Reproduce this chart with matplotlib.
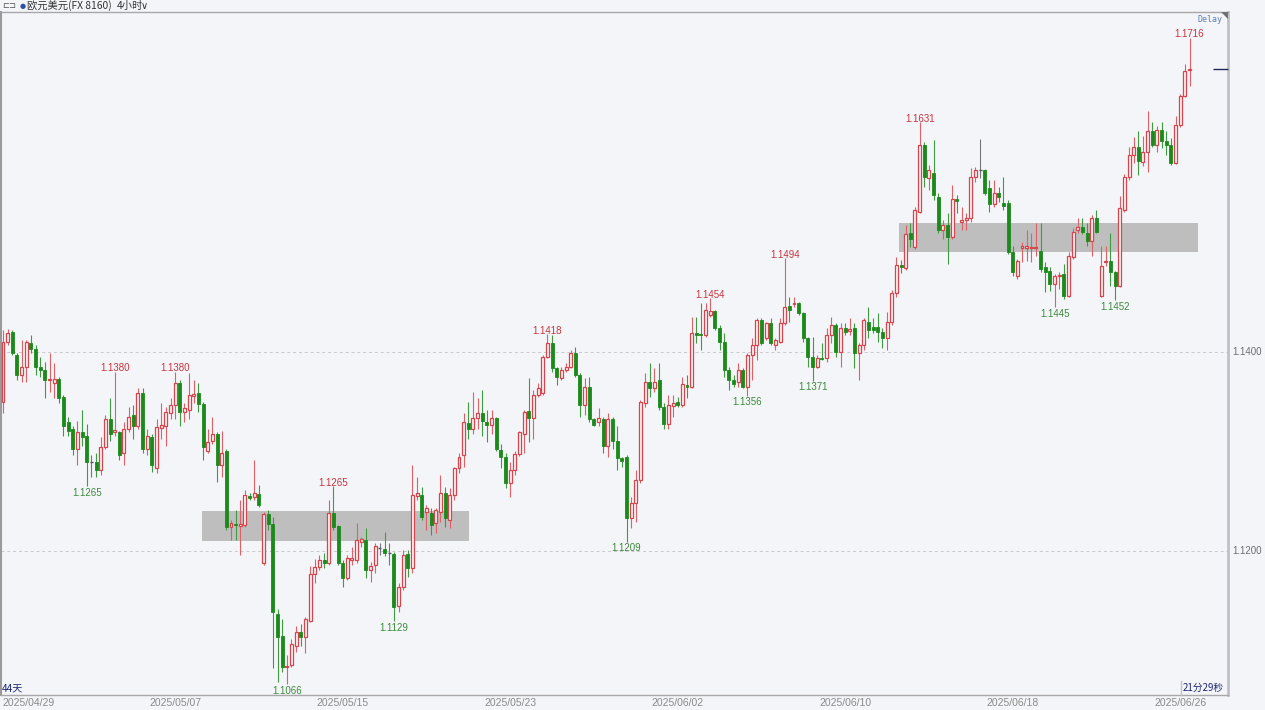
import numpy as np
import matplotlib
matplotlib.use('Agg')
import matplotlib.pyplot as plt
from matplotlib.transforms import blended_transform_factory
from matplotlib.patches import Rectangle, Polygon
from matplotlib.lines import Line2D

plt.rcParams['font.family'] = ['Liberation Sans', 'Noto Sans CJK SC', 'DejaVu Sans']

# ---------------- data: EUR/USD 4H candles ----------------
opens = [
 1.1350,1.1410,1.1420,1.1397,1.1377,1.1385,1.1409,1.1403,1.1385,1.1382,
 1.1372,1.1369,1.1373,1.1355,1.1329,1.1322,1.1302,1.1319,1.1315,1.1289,
 1.1289,1.1281,1.1304,1.1332,1.1319,1.1319,1.1298,1.1322,1.1337,1.1325,
 1.1359,1.1302,1.1314,1.1283,1.1323,1.1325,1.1339,1.1347,1.1369,1.1340,
 1.1342,1.1356,1.1359,1.1348,1.1300,1.1310,1.1317,1.1286,
 1.1300,1.1224,1.1227,1.1225,1.1226,1.1255,1.1254,1.1257,1.1188,1.1237,
 1.1227,1.1136,1.1114,1.1083,1.1085,1.1104,1.1118,1.1113,1.1129,1.1177,
 1.1184,1.1191,1.1188,1.1238,1.1225,1.1188,1.1173,1.1191,1.1191,1.1209,
 1.1211,1.1181,1.1186,1.1203,1.1202,1.1198,1.1197,1.1144,1.1164,1.1197,
 1.1183,1.1255,1.1256,
 1.1239,1.1238,1.1228,1.1239,1.1258,1.1231,1.1256,1.1283,1.1296,1.1328,
 1.1322,1.1333,1.1339,1.1329,1.1326,1.1333,1.1301,1.1294,1.1268,1.1281,
 1.1297,1.1317,1.1341,1.1333,1.1357,1.1359,1.1395,1.1409,1.1384,1.1374,
 1.1382,1.1385,1.1399,1.1377,1.1347,1.1365,1.1332,1.1329,1.1332,1.1305,
 1.1332,1.1310,1.1293,1.1294,1.1233,1.1248,1.1271,1.1349,1.1370,
 1.1364,1.1372,1.1345,1.1327,1.1346,1.1350,1.1347,1.1367,1.1365,1.1419,
 1.1418,1.1417,1.1437,1.1441,1.1424,1.1410,1.1382,1.1372,1.1370,1.1382,
 1.1365,1.1397,1.1407,1.1432,1.1414,1.1429,1.1407,1.1410,1.1429,1.1446,
 1.1448,1.1449,1.1439,1.1414,1.1395,1.1385,1.1394,1.1394,1.1417,1.1427,
 1.1400,1.1424,1.1421,1.1424,1.1399,1.1407,1.1430,1.1425,1.1425,1.1420,1.1414,
 1.1430,1.1459,1.1487,1.1484,1.1520,1.1505,1.1541,1.1608,1.1575,1.1580,
 1.1556,1.1523,1.1528,1.1515,1.1554,1.1531,1.1533,1.1535,1.1576,1.1583,
 1.1583,1.1565,1.1549,1.1560,1.1550,1.1550,1.1500,1.1476,1.1504,1.1504,
 1.1504,1.1504,1.1501,1.1485,1.1481,1.1468,1.1476,1.1478,1.1456,1.1495,
 1.1523,1.1526,1.1520,1.1511,1.1535,1.1456,1.1490,1.1491,1.1480,1.1466,1.1543,
 1.1576,1.1598,1.1606,1.1591,1.1601,1.1622,1.1608,1.1623,1.1612,1.1608,
 1.1590,1.1628,1.1657,1.1683]

highs = [
 1.1422,1.1423,1.1422,1.1399,1.1412,1.1412,1.1417,1.1407,1.1395,1.1390,
 1.1399,1.1389,1.1375,1.1357,1.1335,1.1325,1.1330,1.1342,1.1327,1.1296,
 1.1298,1.1314,1.1337,1.1354,1.1380,1.1320,1.1329,1.1345,1.1347,1.1364,
 1.1364,1.1322,1.1317,1.1332,1.1349,1.1345,1.1354,1.1380,1.1372,1.1349,
 1.1379,1.1372,1.1369,1.1350,1.1322,1.1335,1.1319,1.1320,
 1.1302,1.1231,1.1241,1.1251,1.1261,1.1258,1.1291,1.1266,1.1239,1.1241,
 1.1234,1.1141,1.1131,1.1095,1.1111,1.1124,1.1126,1.1133,1.1185,1.1192,
 1.1196,1.1198,1.1251,1.1265,1.1226,1.1191,1.1196,1.1204,1.1228,1.1214,
 1.1223,1.1189,1.1208,1.1208,1.1219,1.1208,1.1199,1.1168,1.1201,1.1201,
 1.1286,1.1274,1.1264,
 1.1246,1.1243,1.1243,1.1276,1.1264,1.1263,1.1284,1.1298,1.1339,1.1350,
 1.1360,1.1354,1.1362,1.1342,1.1342,1.1335,1.1307,1.1298,1.1289,1.1300,
 1.1320,1.1342,1.1374,1.1362,1.1369,1.1397,1.1418,1.1417,1.1385,1.1385,
 1.1389,1.1402,1.1405,1.1379,1.1374,1.1375,1.1334,1.1344,1.1335,1.1339,
 1.1335,1.1325,1.1294,1.1296,1.1254,1.1281,1.1352,1.1379,1.1389,
 1.1384,1.1389,1.1349,1.1357,1.1357,1.1355,1.1375,1.1377,1.1435,1.1435,
 1.1449,1.1449,1.1454,1.1442,1.1427,1.1419,1.1385,1.1377,1.1389,1.1384,
 1.1399,1.1414,1.1434,1.1434,1.1430,1.1434,1.1414,1.1434,1.1494,1.1455,
 1.1455,1.1450,1.1440,1.1415,1.1415,1.1397,1.1409,1.1424,1.1435,1.1429,
 1.1429,1.1429,1.1434,1.1429,1.1409,1.1434,1.1445,1.1434,1.1439,1.1424,1.1440,
 1.1462,1.1495,1.1492,1.1528,1.1530,1.1546,1.1631,1.1611,1.1588,1.1613,
 1.1560,1.1533,1.1540,1.1568,1.1558,1.1546,1.1540,1.1585,1.1586,1.1614,
 1.1584,1.1573,1.1573,1.1566,1.1576,1.1553,1.1506,1.1493,1.1510,1.1523,
 1.1520,1.1530,1.1530,1.1490,1.1485,1.1478,1.1480,1.1488,1.1500,1.1525,
 1.1535,1.1535,1.1530,1.1538,1.1543,1.1506,1.1506,1.1520,1.1481,1.1557,1.1579,
 1.1606,1.1616,1.1622,1.1617,1.1642,1.1631,1.1627,1.1631,1.1622,1.1615,
 1.1637,1.1659,1.1689,1.1716]

lows = [
 1.1339,1.1407,1.1397,1.1372,1.1370,1.1370,1.1399,1.1377,1.1375,1.1354,
 1.1360,1.1354,1.1349,1.1315,1.1315,1.1296,1.1286,1.1305,1.1265,1.1274,
 1.1274,1.1276,1.1302,1.1310,1.1315,1.1291,1.1286,1.1319,1.1312,1.1322,
 1.1298,1.1296,1.1279,1.1278,1.1312,1.1305,1.1332,1.1332,1.1325,1.1329,
 1.1332,1.1349,1.1340,1.1291,1.1298,1.1307,1.1269,1.1274,
 1.1221,1.1211,1.1211,1.1196,1.1224,1.1251,1.1251,1.1244,1.1186,1.1221,
 1.1082,1.1068,1.1078,1.1066,1.1083,1.1098,1.1104,1.1097,1.1128,1.1168,
 1.1181,1.1183,1.1186,1.1221,1.1186,1.1164,1.1171,1.1186,1.1188,1.1204,
 1.1173,1.1169,1.1178,1.1196,1.1195,1.1186,1.1129,1.1138,1.1161,1.1174,
 1.1178,1.1251,1.1231,
 1.1221,1.1216,1.1218,1.1229,1.1224,1.1223,1.1251,1.1278,1.1284,1.1312,
 1.1317,1.1322,1.1315,1.1309,1.1317,1.1300,1.1283,1.1263,1.1254,1.1276,
 1.1295,1.1298,1.1309,1.1312,1.1355,1.1357,1.1394,1.1380,1.1367,1.1372,
 1.1380,1.1384,1.1375,1.1335,1.1337,1.1329,1.1325,1.1325,1.1298,1.1294,
 1.1302,1.1281,1.1284,1.1209,1.1223,1.1229,1.1268,1.1345,1.1355,
 1.1360,1.1342,1.1322,1.1322,1.1335,1.1345,1.1345,1.1354,1.1364,1.1409,
 1.1402,1.1415,1.1435,1.1422,1.1402,1.1375,1.1362,1.1365,1.1365,1.1364,
 1.1356,1.1372,1.1392,1.1407,1.1412,1.1407,1.1402,1.1409,1.1427,1.1430,
 1.1445,1.1437,1.1410,1.1385,1.1371,1.1384,1.1392,1.1390,1.1409,1.1395,
 1.1385,1.1417,1.1417,1.1384,1.1372,1.1402,1.1414,1.1419,1.1410,1.1404,1.1402,
 1.1427,1.1455,1.1479,1.1482,1.1505,1.1503,1.1540,1.1566,1.1563,1.1553,
 1.1520,1.1513,1.1488,1.1513,1.1540,1.1523,1.1523,1.1531,1.1571,1.1575,
 1.1558,1.1541,1.1546,1.1551,1.1543,1.1498,1.1476,1.1473,1.1490,1.1491,
 1.1490,1.1496,1.1480,1.1460,1.1461,1.1445,1.1463,1.1453,1.1455,1.1493,
 1.1520,1.1518,1.1506,1.1496,1.1520,1.1455,1.1486,1.1466,1.1452,1.1465,1.1541,
 1.1573,1.1590,1.1578,1.1587,1.1581,1.1606,1.1601,1.1605,1.1598,1.1588,
 1.1589,1.1626,1.1656,1.1667]

closes = [
 1.1410,1.1419,1.1399,1.1377,1.1385,1.1410,1.1403,1.1385,1.1382,1.1372,
 1.1373,1.1373,1.1354,1.1325,1.1320,1.1302,1.1319,1.1314,1.1289,1.1289,
 1.1281,1.1304,1.1332,1.1317,1.1321,1.1296,1.1322,1.1335,1.1325,1.1359,
 1.1302,1.1315,1.1286,1.1324,1.1326,1.1340,1.1347,1.1369,1.1340,1.1344,
 1.1357,1.1358,1.1348,1.1304,1.1309,1.1317,1.1286,1.1298,
 1.1224,1.1228,1.1226,1.1227,1.1256,1.1253,1.1258,1.1246,1.1237,1.1227,
 1.1138,1.1113,1.1083,1.1084,1.1106,1.1118,1.1113,1.1131,1.1177,1.1184,
 1.1191,1.1188,1.1238,1.1224,1.1188,1.1173,1.1193,1.1193,1.1211,1.1212,
 1.1181,1.1185,1.1205,1.1203,1.1198,1.1198,1.1143,1.1164,1.1196,1.1183,
 1.1256,1.1258,1.1234,
 1.1243,1.1226,1.1241,1.1258,1.1233,1.1256,1.1283,1.1294,1.1329,1.1322,
 1.1334,1.1339,1.1330,1.1326,1.1333,1.1302,1.1294,1.1268,1.1281,1.1297,
 1.1319,1.1340,1.1333,1.1357,1.1364,1.1395,1.1409,1.1384,1.1375,1.1382,
 1.1385,1.1399,1.1377,1.1347,1.1365,1.1332,1.1326,1.1333,1.1305,1.1332,
 1.1310,1.1293,1.1290,1.1233,1.1248,1.1271,1.1350,1.1370,1.1364,
 1.1370,1.1345,1.1327,1.1347,1.1349,1.1347,1.1368,1.1365,1.1419,1.1417,
 1.1417,1.1442,1.1441,1.1424,1.1410,1.1382,1.1372,1.1368,1.1382,1.1365,
 1.1397,1.1407,1.1432,1.1409,1.1429,1.1409,1.1412,1.1429,1.1445,1.1442,
 1.1449,1.1439,1.1414,1.1395,1.1385,1.1394,1.1393,1.1417,1.1427,1.1400,
 1.1424,1.1420,1.1423,1.1399,1.1407,1.1432,1.1422,1.1422,1.1420,1.1414,1.1430,
 1.1459,1.1487,1.1485,1.1518,1.1513,1.1543,1.1608,1.1576,1.1583,1.1558,
 1.1523,1.1528,1.1515,1.1554,1.1552,1.1533,1.1535,1.1576,1.1583,1.1583,
 1.1560,1.1549,1.1560,1.1556,1.1547,1.1500,1.1480,1.1491,1.1506,1.1506,
 1.1505,1.1505,1.1483,1.1480,1.1468,1.1476,1.1477,1.1456,1.1496,1.1521,
 1.1526,1.1521,1.1511,1.1535,1.1521,1.1486,1.1491,1.1480,1.1466,1.1545,1.1576,
 1.1598,1.1606,1.1592,1.1601,1.1622,1.1608,1.1623,1.1612,1.1608,1.1590,
 1.1628,1.1657,1.1682,1.1684]

# marked swing highs / lows (candle indices)
peak_idx = [24, 37, 71, 117, 152, 168, 197, 255]
trough_idx = [18, 61, 84, 134, 160, 174, 226, 239]

# grey consolidation zones: (first candle, last candle, low price, high price)
zone_start = [42.8, 192.6]
zone_end = [100.2, 256.8]
zone_low = [1.1210, 1.1500]
zone_high = [1.1240, 1.1530]

date_labels = ['2025/04/29', '2025/05/07', '2025/05/15', '2025/05/23',
               '2025/06/02', '2025/06/10', '2025/06/18', '2025/06/26']
date_idx = [1, 37, 73, 109, 145, 181, 217, 253]
price_ticks = [1.1400, 1.1200]

# ---------------- figure ----------------
o = np.array(opens); h = np.array(highs); l = np.array(lows); c = np.array(closes)
n = len(c)
x = np.arange(n)

W, H = 1265, 710
BG = '#F4F5F9'
fig = plt.figure(figsize=(W / 100, H / 100), dpi=100)
fig.patch.set_facecolor(BG)
L, R, B, T = 1, 1228, 695, 12
ax = fig.add_axes([L / W, (H - B) / H, (R - L) / W, (B - T) / H])
ax.set_facecolor(BG)
step = 4.653
ax.set_xlim((L - 3) / step, (R - 3) / step)
ax.set_ylim(1.1055, 1.17417)
ax.set_xticks([]); ax.set_yticks([])
for s, col, lw in [('left', '#9A9A9A', 1.5), ('right', '#BFC0C8', 2.0),
                   ('top', '#A8A8A8', 1.0), ('bottom', '#A8A8A8', 1.0)]:
    ax.spines[s].set_color(col); ax.spines[s].set_linewidth(lw)

# grid
for v in price_ticks:
    ax.axhline(v, color='#C8C8CC', lw=0.7, ls=(0, (3, 3)), zorder=0.5)

# zones
for xs, xe, lo, hi in zip(zone_start, zone_end, zone_low, zone_high):
    ax.add_patch(Rectangle((xs, lo), xe - xs, hi - lo, facecolor='#BEBEBE',
                           edgecolor='none', zorder=1))

RED = '#D6454B'; RED_W = '#DE6168'
GRN = '#1B8A1B'; GRN_W = '#3F9B3F'
up = c > o
dn = c < o
fl = c == o
ax.vlines(x[up], l[up], h[up], color=RED_W, lw=0.8, zorder=2)
ax.vlines(x[dn], l[dn], h[dn], color=GRN_W, lw=0.8, zorder=2)
ax.vlines(x[fl], l[fl], h[fl], color='#777777', lw=0.8, zorder=2)
bw = 0.64
minh = 0.00005
ax.bar(x[up], np.maximum(c[up] - o[up], minh), bottom=o[up], width=bw,
       facecolor='#FBF5F7', edgecolor=RED, linewidth=0.9, zorder=3)
ax.bar(x[dn], np.maximum(o[dn] - c[dn], minh), bottom=c[dn], width=bw,
       facecolor=GRN, edgecolor=GRN, linewidth=0.6, zorder=3)
ax.hlines(c[fl], x[fl] - bw / 2, x[fl] + bw / 2, color='#555555', lw=1.0, zorder=3)

# current price marker
ax.hlines(c[-1], (1213 - 3) / step, ax.get_xlim()[1], color='#1F2A5A', lw=1.0,
          zorder=4, clip_on=False)

# swing annotations
for i in peak_idx:
    ax.annotate(f'{h[i]:.4f}', (i, h[i]), xytext=(0, -1.2), textcoords='offset points',
                ha='center', va='bottom', fontsize=7, color='#C8343C', zorder=5)
for i in trough_idx:
    ax.annotate(f'{l[i]:.4f}', (i, l[i]), xytext=(0, -1.2), textcoords='offset points',
                ha='center', va='top', fontsize=7, color='#3B8A3B', zorder=5)

# right price labels
tr = blended_transform_factory(ax.transAxes, ax.transData)
for v in price_ticks:
    ax.text(1.0 + 4 / (R - L), v, f'{v:.4f}', transform=tr, ha='left', va='center',
            fontsize=7, color='#6E6E6E', clip_on=False)

# date labels
trx = blended_transform_factory(ax.transData, ax.transAxes)
for k, (lab, idx) in enumerate(zip(date_labels, date_idx)):
    if k == 0:
        ax.text(0.0015, -8 / (B - T), lab, transform=ax.transAxes, ha='left',
                va='center', fontsize=7.5, color='#8A8A8A', clip_on=False)
    else:
        ax.text(idx, -8 / (B - T), lab, transform=trx, ha='center', va='center',
                fontsize=7.5, color='#8A8A8A', clip_on=False)

# header
cjk = ['Noto Sans CJK SC', 'DejaVu Sans']
fig.text(2 / W, 1 - 6 / H, '⊏⊐', fontsize=6, color='#555555', va='center',
         family=['DejaVu Sans'])
fig.text(20 / W, 1 - 6 / H, '●', fontsize=5, color='#2F4FA0', va='center',
         family=['DejaVu Sans'])
fig.text(27 / W, 1 - 6 / H, '欧元美元(FX 8160)', fontsize=7.4, color='#333333',
         va='center', family=cjk)
fig.text(117 / W, 1 - 6 / H, '4小时', fontsize=7.4, color='#333333', va='center',
         family=cjk)
fig.text(141 / W, 1 - 6 / H, '∨', fontsize=7, color='#333333', va='center',
         family=['DejaVu Sans'])

# Delay + corner
fig.text(1222 / W, 1 - 20 / H, 'Delay', fontsize=6, color='#5B7DB1', ha='right',
         va='center', family=['DejaVu Sans Mono'])
fig.patches.append(Polygon([[1221 / W, 1 - 12 / H], [1228 / W, 1 - 12 / H],
                            [1228 / W, 1 - 19 / H]], closed=True,
                           transform=fig.transFigure, facecolor='#707070',
                           edgecolor='none'))

# bottom corner texts
fig.text(2 / W, 1 - 688 / H, '44天', fontsize=7.2, color='#1E2870', va='center',
         family=cjk)
fig.text(1224 / W, 1 - 688 / H, '21分29秒', fontsize=7.0, color='#1E2870',
         va='center', ha='right', family=cjk)
fig.add_artist(Line2D([1181 / W, 1181 / W], [1 - 681 / H, 1 - 695 / H],
                      color='#C4C4C8', lw=1, transform=fig.transFigure))

fig.savefig('out.png', dpi=100, facecolor=BG)
